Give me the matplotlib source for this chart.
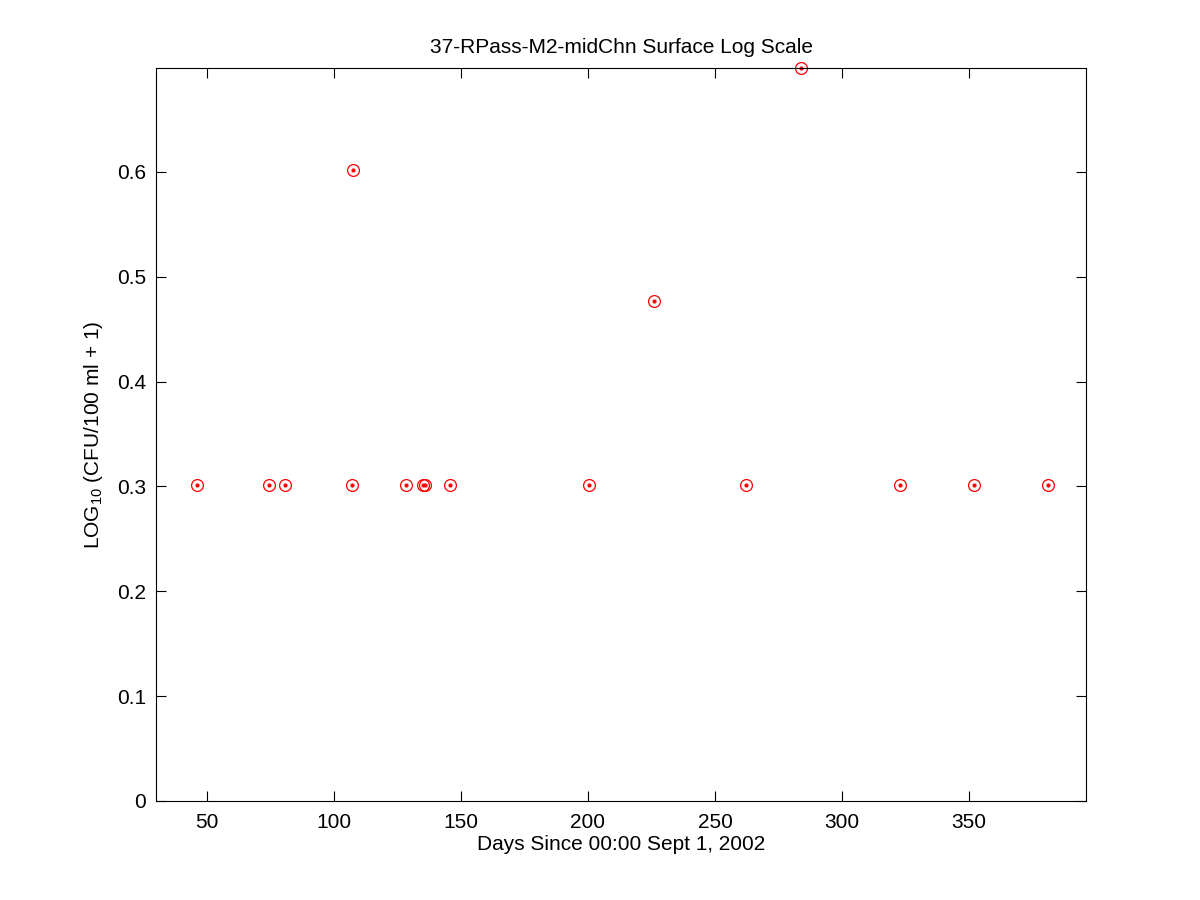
import matplotlib
matplotlib.use("Agg")
import matplotlib.pyplot as plt

days = [46.2, 74.5, 80.6, 107.2, 107.6, 128.4, 135.2, 135.9, 145.6,
        200.4, 226.1, 262.1, 283.9, 322.8, 351.9, 381.0]
log_values = [0.301, 0.301, 0.301, 0.301, 0.602, 0.301, 0.301, 0.301, 0.301,
              0.301, 0.477, 0.301, 0.699, 0.301, 0.301, 0.301]
x_ticks = [50, 100, 150, 200, 250, 300, 350]
y_ticks = [0, 0.1, 0.2, 0.3, 0.4, 0.5, 0.6]
y_tick_labels = ['0', '0.1', '0.2', '0.3', '0.4', '0.5', '0.6']

plt.rcParams['font.family'] = ['Liberation Sans', 'DejaVu Sans']

fig = plt.figure(figsize=(12, 9), dpi=100)
ax = fig.add_axes([0.13, 0.11, 0.775, 0.8145])

ax.plot(days, log_values, 'o', mfc='none', mec='red', ms=8.5, mew=0.9, clip_on=False)
ax.plot(days, log_values, '.', color='red', ms=4, clip_on=False)

ax.set_xlim(30, 396)
ax.set_ylim(0, 0.699)
ax.set_xticks(x_ticks)
ax.set_yticks(y_ticks)
ax.set_yticklabels(y_tick_labels)
ax.tick_params(axis='x', direction='in', length=7, width=0.8, top=True, labelsize=15, pad=9)
ax.tick_params(axis='y', direction='in', length=7, width=0.8, right=True, labelsize=15, pad=7)
for s in ax.spines.values():
    s.set_linewidth(0.8)

ax.set_title('37-RPass-M2-midChn Surface Log Scale', fontsize=15, pad=11)
ax.set_xlabel('Days Since 00:00 Sept 1, 2002', fontsize=15, labelpad=2)
ax.set_ylabel('LOG$_{\\mathregular{10}}$ (CFU/100 ml + 1)', fontsize=15, labelpad=9)

fig.savefig('out.png', dpi=100)
